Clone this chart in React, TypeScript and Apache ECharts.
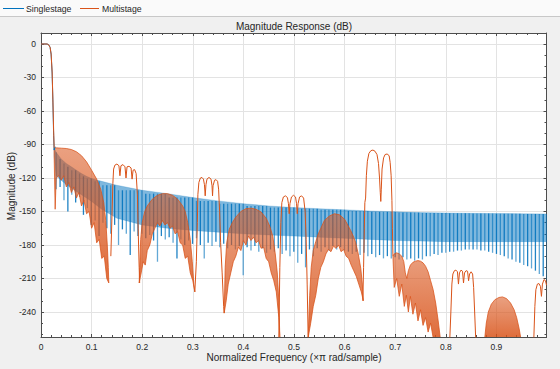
import React, { useEffect, useRef } from 'react';
import * as echarts from 'echarts';

// ---------- axis settings ----------
const F_MIN = 0;
const F_MAX = 0.999;
const DB_MIN = -262.4;
const DB_MAX = 9.85;

// ---------- Singlestage (blue) ----------
const bluePass: [number, number][] = [
  [0, 0], [0.012, 0], [0.015, -0.6], [0.018, -3], [0.02, -9], [0.022, -26], [0.0235, -52], [0.025, -82], [0.026, -95], [0.028, -92],
];
const blueTop: [number, number][] = [
  [0.026, -93], [0.03, -97], [0.04, -103], [0.05, -107], [0.06, -110], [0.07, -113], [0.08, -116], [0.09, -118.5],
  [0.1, -120.5], [0.12, -123], [0.15, -126.5], [0.2, -131], [0.25, -134], [0.3, -137.5], [0.35, -140.5], [0.4, -143],
  [0.45, -145], [0.5, -146.5], [0.55, -147.5], [0.6, -148.5], [0.65, -149.5], [0.7, -150.3], [0.75, -151], [0.8, -151.3],
  [0.85, -151.6], [0.9, -151.8], [0.95, -152], [0.999, -152.2],
];
const blueBandBottom: [number, number][] = [
  [0.026, -100], [0.03, -118], [0.04, -122], [0.05, -126], [0.06, -129], [0.07, -132], [0.08, -135], [0.09, -138],
  [0.1, -141], [0.12, -148], [0.15, -156], [0.2, -162], [0.25, -165], [0.3, -167], [0.35, -168.5], [0.4, -170],
  [0.45, -171], [0.5, -172], [0.55, -173], [0.6, -174], [0.65, -175], [0.7, -176], [0.75, -176.5], [0.8, -177],
  [0.85, -177], [0.9, -177], [0.95, -177], [0.999, -177],
];
// comb of stopband nulls (one every SPIKE_DF starting at SPIKE_F0): depth of each null in dB
const SPIKE_F0 = 0.03;
const SPIKE_DF = 0.0077;
const blueSpikeBottom: number[] = [
  -130, -128, -140, -150, -135, -142, -137, -153, -147, -162,
  -158, -172, -160, -165, -170, -162, -180, -166, -170, -189,
  -168, -172, -170, -174, -171, -176, -195, -172, -175, -173,
  -178, -192, -175, -180, -176, -179, -174, -180, -192, -178,
  -181, -177, -182, -179, -183, -180, -184, -181, -207, -182,
  -185, -181, -186, -183, -187, -184, -186, -183, -188, -185,
  -190, -186, -196, -188, -200, -184, -190, -183, -186, -182,
  -185, -181, -184, -182, -185, -186, -188, -186, -189, -187,
  -190, -188, -191, -189, -192, -190, -192, -191, -193, -191,
  -193, -192, -194, -192, -193, -190, -190, -188, -189, -187,
  -187, -186, -186, -185, -185, -184, -184, -184, -184, -185,
  -185, -186, -187, -188, -189, -190, -192, -193, -195, -196,
  -198, -199, -201, -203, -206, -208, -211,
];

// ---------- Multistage (orange) ----------
const orangePass: [number, number][] = [
  [0, 0], [0.012, 0], [0.015, -0.6], [0.018, -3], [0.02, -9], [0.022, -25], [0.0235, -50], [0.025, -78], [0.026, -93],
];
// dense lobes: upper envelope and lower edge of the dense strands
const domeATop: [number, number][] = [
  [0.026, -93], [0.03, -93], [0.04, -93.3], [0.05, -93.6], [0.06, -94.5], [0.07, -96.5], [0.08, -100], [0.09, -105.5],
  [0.1, -113], [0.11, -121], [0.118, -130], [0.124, -142], [0.128, -158], [0.131, -180], [0.133, -200], [0.134, -214],
];
const domeABottom: [number, number][] = [
  [0.026, -100], [0.028, -148], [0.03, -120], [0.035, -118], [0.04, -122], [0.045, -118], [0.05, -128], [0.055, -124],
  [0.06, -133], [0.065, -128], [0.07, -138], [0.075, -133], [0.08, -145], [0.085, -140], [0.09, -152], [0.095, -150],
  [0.1, -165], [0.105, -160], [0.11, -178], [0.115, -175], [0.12, -192], [0.125, -190], [0.13, -210], [0.134, -214],
];
const domeBTop: [number, number][] = [
  [0.194, -214], [0.197, -175], [0.2, -160], [0.205, -150], [0.21, -145], [0.22, -139], [0.23, -135.5], [0.24, -134],
  [0.25, -134], [0.26, -135.5], [0.27, -139], [0.28, -145], [0.285, -150], [0.29, -160], [0.295, -175], [0.299, -195],
  [0.302, -215], [0.304, -222],
];
const domeBBottom: [number, number][] = [
  [0.194, -214], [0.198, -205], [0.202, -195], [0.206, -198], [0.21, -185], [0.215, -180], [0.22, -170], [0.225, -165],
  [0.23, -160], [0.235, -163], [0.24, -158], [0.245, -162], [0.25, -160], [0.255, -165], [0.26, -163], [0.265, -170],
  [0.27, -168], [0.275, -178], [0.28, -180], [0.285, -192], [0.29, -190], [0.295, -205], [0.3, -212], [0.304, -222],
];
const domeCTop: [number, number][] = [
  [0.362, -241], [0.364, -200], [0.367, -178], [0.372, -166], [0.378, -160], [0.385, -155], [0.395, -150], [0.405, -147.5],
  [0.415, -147], [0.425, -148], [0.435, -150.5], [0.445, -156], [0.452, -163], [0.458, -172], [0.463, -188], [0.467, -205],
  [0.47, -230], [0.472, -263],
];
const domeCBottom: [number, number][] = [
  [0.362, -241], [0.366, -230], [0.37, -215], [0.375, -205], [0.38, -195], [0.385, -190], [0.39, -182], [0.395, -185],
  [0.4, -176], [0.405, -180], [0.41, -172], [0.415, -176], [0.42, -173], [0.425, -178], [0.43, -176], [0.435, -183],
  [0.44, -182], [0.445, -192], [0.45, -195], [0.455, -205], [0.46, -212], [0.465, -222], [0.47, -245], [0.472, -263],
];
const domeDTop: [number, number][] = [
  [0.528, -263], [0.531, -225], [0.534, -200], [0.538, -185], [0.543, -177], [0.548, -170], [0.553, -165], [0.56, -158],
  [0.57, -154], [0.58, -152], [0.59, -153], [0.6, -157], [0.605, -161], [0.612, -167], [0.618, -173], [0.622, -178],
  [0.627, -188], [0.632, -201], [0.635, -215], [0.637, -230],
];
const domeDBottom: [number, number][] = [
  [0.528, -263], [0.533, -250], [0.538, -235], [0.543, -225], [0.548, -210], [0.553, -200], [0.558, -195], [0.563, -188],
  [0.568, -184], [0.573, -186], [0.578, -181], [0.583, -183], [0.588, -180], [0.593, -186], [0.598, -184], [0.603, -190],
  [0.608, -192], [0.613, -198], [0.618, -203], [0.623, -208], [0.628, -215], [0.633, -222], [0.637, -230],
];
const domeETop: [number, number][] = [
  [0.6955, -190], [0.698, -188], [0.703, -187], [0.708, -188], [0.713, -190], [0.717, -195], [0.72, -205], [0.723, -210],
  [0.726, -203], [0.73, -198], [0.735, -195.5], [0.74, -194.5], [0.745, -194], [0.75, -194.5], [0.755, -196], [0.76, -199],
  [0.765, -204], [0.77, -212], [0.775, -220], [0.78, -232], [0.785, -248], [0.789, -263],
];
const domeEBottom: [number, number][] = [
  [0.6955, -190], [0.698, -218], [0.703, -210], [0.708, -226], [0.713, -215], [0.718, -235], [0.722, -225], [0.726, -240],
  [0.73, -226], [0.735, -242], [0.74, -232], [0.745, -248], [0.75, -238], [0.755, -252], [0.76, -245], [0.765, -258],
  [0.77, -250], [0.775, -263], [0.789, -263],
];
const domeFTop: [number, number][] = [
  [0.877, -263], [0.88, -250], [0.884, -240], [0.89, -233], [0.897, -229], [0.905, -227], [0.912, -226.5], [0.92, -228],
  [0.928, -232], [0.935, -238], [0.94, -245], [0.945, -255], [0.948, -263],
];
const domeFBottom: [number, number][] = [
  [0.877, -263], [0.948, -263],
];
// clean image lobes (plain lines)
const lobe1: [number, number][] = [
  [0.138, -190], [0.1405, -150], [0.142, -125], [0.1435, -112], [0.146, -108.5], [0.15, -107.5], [0.154, -109], [0.156, -118],
  [0.158, -109], [0.162, -108], [0.166, -110], [0.168, -120], [0.17, -110], [0.174, -109.5], [0.178, -111], [0.18, -121],
  [0.182, -113], [0.185, -112.5], [0.188, -116], [0.1905, -135], [0.192, -165], [0.194, -200], [0.195, -214],
];
const lobe2: [number, number][] = [
  [0.304, -222], [0.307, -195], [0.309, -160], [0.31, -135], [0.312, -124], [0.315, -120], [0.318, -119.5], [0.321, -121],
  [0.323, -126], [0.3245, -136], [0.326, -126], [0.328, -121], [0.332, -119.5], [0.336, -121], [0.338, -127], [0.339, -136],
  [0.34, -127], [0.343, -122], [0.346, -121.5], [0.349, -123], [0.351, -130], [0.353, -150], [0.355, -178], [0.358, -205],
  [0.361, -235], [0.362, -241],
];
const lobe3: [number, number][] = [
  [0.47, -263], [0.472, -200], [0.474, -160], [0.476, -142], [0.479, -137], [0.483, -136], [0.487, -137.5], [0.489, -143],
  [0.4905, -152], [0.492, -143], [0.495, -137], [0.499, -135.5], [0.503, -137], [0.505, -143], [0.5065, -152], [0.508, -143],
  [0.511, -137], [0.515, -136], [0.519, -138], [0.522, -150], [0.524, -175], [0.526, -215], [0.528, -263],
];
const lobe4: [number, number][] = [
  [0.636, -230], [0.6375, -200], [0.639, -165], [0.64, -142], [0.6415, -138], [0.643, -118], [0.645, -105], [0.648, -98],
  [0.652, -95.5], [0.656, -95], [0.66, -96], [0.664, -99], [0.667, -107], [0.669, -120], [0.6705, -133], [0.6715, -141],
  [0.6725, -130], [0.674, -112], [0.677, -102], [0.68, -99], [0.684, -98.5], [0.688, -100], [0.69, -106], [0.692, -118],
  [0.6935, -140], [0.6945, -165], [0.6955, -190],
];
const lobe5: [number, number][] = [
  [0.808, -263], [0.81, -240], [0.812, -215], [0.814, -206], [0.817, -203], [0.82, -202.5], [0.823, -204], [0.825, -215],
  [0.827, -205], [0.83, -202.5], [0.833, -203.5], [0.835, -214], [0.837, -205], [0.84, -203], [0.843, -203.5], [0.845, -212],
  [0.847, -206], [0.85, -204], [0.853, -206], [0.855, -218], [0.857, -240], [0.859, -263],
];
const lobe6: [number, number][] = [
  [0.974, -263], [0.976, -235], [0.978, -220], [0.981, -215], [0.984, -214.5], [0.987, -217], [0.989, -226], [0.991, -215],
  [0.994, -211], [0.997, -212], [0.999, -216],
];

const BLUE = '#0072BD';
const ORANGE = '#D95319';
const FONT = '"Liberation Sans", Arial, Helvetica, sans-serif';
const TXT = '#262626';

// upper edge of the blue band at a spike (the lower of the two bracketing envelope points)
function bandTopAt(f: number) {
  for (let i = 1; i < blueTop.length; i++) {
    if (f <= blueTop[i][0]) return Math.min(blueTop[i - 1][1], blueTop[i][1]);
  }
  return blueTop[blueTop.length - 1][1];
}

function polygonSeries(name: string, shapes: [number, number][][], fill: any, stroke: string, lw: number) {
  return {
    type: 'custom',
    name,
    coordinateSystem: 'cartesian2d',
    xAxisIndex: 0,
    yAxisIndex: 0,
    clip: true,
    silent: true,
    itemStyle: { color: stroke },
    data: shapes.map((s) => s[0]),
    renderItem: (params: any, api: any) => {
      const s = shapes[params.dataIndex];
      return {
        type: 'polygon',
        shape: { points: s.map((p) => api.coord(p)) },
        style: { fill, stroke, lineWidth: lw },
      };
    },
  };
}

function lineSeries(name: string, data: [number, number][], color: string) {
  return {
    type: 'line',
    name,
    data,
    showSymbol: false,
    symbol: 'none',
    clip: true,
    silent: true,
    lineStyle: { color, width: 1 },
    itemStyle: { color },
  };
}

const closed = (top: [number, number][], bottom: [number, number][]) => [...top, ...bottom.slice().reverse()];

function buildOption() {
  const axisLineStyle = { color: '#4d4d4d', width: 1 };
  const xBase = {
    type: 'value',
    min: F_MIN,
    max: F_MAX,
    interval: 0.1,
    axisLine: { show: true, onZero: false, lineStyle: axisLineStyle },
    axisTick: { show: true, inside: true, length: 3, lineStyle: axisLineStyle },
    minorTick: { show: true, splitNumber: 5, length: 2, lineStyle: axisLineStyle },
  };
  const yBase = {
    type: 'value',
    min: DB_MIN,
    max: DB_MAX,
    splitNumber: 9,
    axisLine: { show: true, onZero: false, lineStyle: axisLineStyle },
    axisTick: { show: true, inside: true, length: 3, lineStyle: axisLineStyle },
    minorTick: { show: true, splitNumber: 3, length: 2, lineStyle: axisLineStyle },
  };
  const domeFill = new echarts.graphic.LinearGradient(0, 0, 0, 1, [
    { offset: 0, color: 'rgba(217,83,25,0.55)' },
    { offset: 1, color: 'rgba(217,83,25,0.85)' },
  ]);
  return {
    animation: false,
    backgroundColor: '#f0f0f0',
    textStyle: { fontFamily: FONT },
    grid: { left: 41, top: 33, width: 505.5, height: 304, show: true, backgroundColor: '#ffffff', borderWidth: 0 },
    xAxis: [
      {
        ...xBase,
        position: 'bottom',
        axisLabel: { show: true, margin: 5, fontSize: 8.5, color: TXT, fontFamily: FONT, showMaxLabel: false },
        splitLine: { show: true, lineStyle: { color: '#e3e3e3', width: 1 } },
      },
      {
        ...xBase,
        position: 'top',
        axisLabel: { show: false },
        splitLine: { show: false },
      },
    ],
    yAxis: [
      {
        ...yBase,
        position: 'left',
        axisLabel: { show: true, margin: 5, fontSize: 8.5, color: TXT, fontFamily: FONT, showMinLabel: false, showMaxLabel: false },
        splitLine: { show: true, lineStyle: { color: '#e3e3e3', width: 1 } },
      },
      {
        ...yBase,
        position: 'right',
        axisLabel: { show: false },
        splitLine: { show: false },
      },
    ],
    graphic: [
      { type: 'rect', shape: { x: 0, y: 0, width: 560, height: 16 }, style: { fill: '#fafafa' } },
      { type: 'line', shape: { x1: 0, y1: 16.5, x2: 560, y2: 16.5 }, style: { stroke: '#c8c8c8', lineWidth: 1 } },
      { type: 'line', shape: { x1: 3, y1: 8.5, x2: 24, y2: 8.5 }, style: { stroke: BLUE, lineWidth: 1 } },
      { type: 'text', x: 26, y: 8.5, style: { text: 'Singlestage', fontSize: 8.7, fill: TXT, fontFamily: FONT, verticalAlign: 'middle' } },
      { type: 'line', shape: { x1: 80, y1: 8.5, x2: 99, y2: 8.5 }, style: { stroke: ORANGE, lineWidth: 1 } },
      { type: 'text', x: 102, y: 8.5, style: { text: 'Multistage', fontSize: 8.7, fill: TXT, fontFamily: FONT, verticalAlign: 'middle' } },
      { type: 'text', x: 294, y: 26, style: { text: 'Magnitude Response (dB)', fontSize: 10, fill: TXT, fontFamily: FONT, align: 'center', verticalAlign: 'middle' } },
      { type: 'text', x: 294, y: 357, style: { text: 'Normalized Frequency (\u00d7\u03c0 rad/sample)', fontSize: 10, fill: TXT, fontFamily: FONT, align: 'center', verticalAlign: 'middle' } },
      { type: 'text', x: 11, y: 186, rotation: Math.PI / 2, style: { text: 'Magnitude (dB)', fontSize: 10, fill: TXT, fontFamily: FONT, align: 'center', verticalAlign: 'middle' } },
    ],
    series: [
      polygonSeries('Singlestage', [closed(blueTop, blueBandBottom)], 'rgba(0,114,189,0.5)', 'rgba(0,114,189,0.35)', 0.6),
      {
        type: 'custom',
        name: 'Singlestage',
        coordinateSystem: 'cartesian2d',
        clip: true,
        silent: true,
        itemStyle: { color: BLUE },
        data: blueSpikeBottom.map((b, i) => [SPIKE_F0 + i * SPIKE_DF, b]),
        renderItem: (params: any, api: any) => {
          const f = api.value(0);
          const b = api.value(1);
          const p1 = api.coord([f, b]);
          const p2 = api.coord([f, bandTopAt(f)]);
          return {
            type: 'line',
            shape: { x1: p1[0], y1: p1[1], x2: p2[0], y2: p2[1] },
            style: { stroke: params.dataIndex % 2 ? 'rgba(0,114,189,0.88)' : 'rgba(0,114,189,0.62)', lineWidth: 1.3 },
          };
        },
      },
      lineSeries('Singlestage', bluePass, BLUE),
      polygonSeries(
        'Multistage',
        [
          closed(domeATop, domeABottom),
          closed(domeBTop, domeBBottom),
          closed(domeCTop, domeCBottom),
          closed(domeDTop, domeDBottom),
          closed(domeETop, domeEBottom),
          closed(domeFTop, domeFBottom),
        ],
        domeFill,
        'rgba(217,83,25,0.95)',
        0.8,
      ),
      lineSeries('Multistage', lobe1, ORANGE),
      lineSeries('Multistage', lobe2, ORANGE),
      lineSeries('Multistage', lobe3, ORANGE),
      lineSeries('Multistage', lobe4, ORANGE),
      lineSeries('Multistage', lobe5, ORANGE),
      lineSeries('Multistage', lobe6, ORANGE),
      lineSeries('Multistage', orangePass, ORANGE),
    ],
  };
}

export default function App() {
  const ref = useRef<HTMLDivElement>(null);
  useEffect(() => {
    if (!ref.current) return;
    const chart = echarts.init(ref.current, undefined, { renderer: 'svg' });
    chart.setOption(buildOption() as any);
    return () => {
      chart.dispose();
    };
  }, []);
  return <div ref={ref} style={{ position: 'fixed', left: 0, top: 0, width: 560, height: 369 }} />;
}
